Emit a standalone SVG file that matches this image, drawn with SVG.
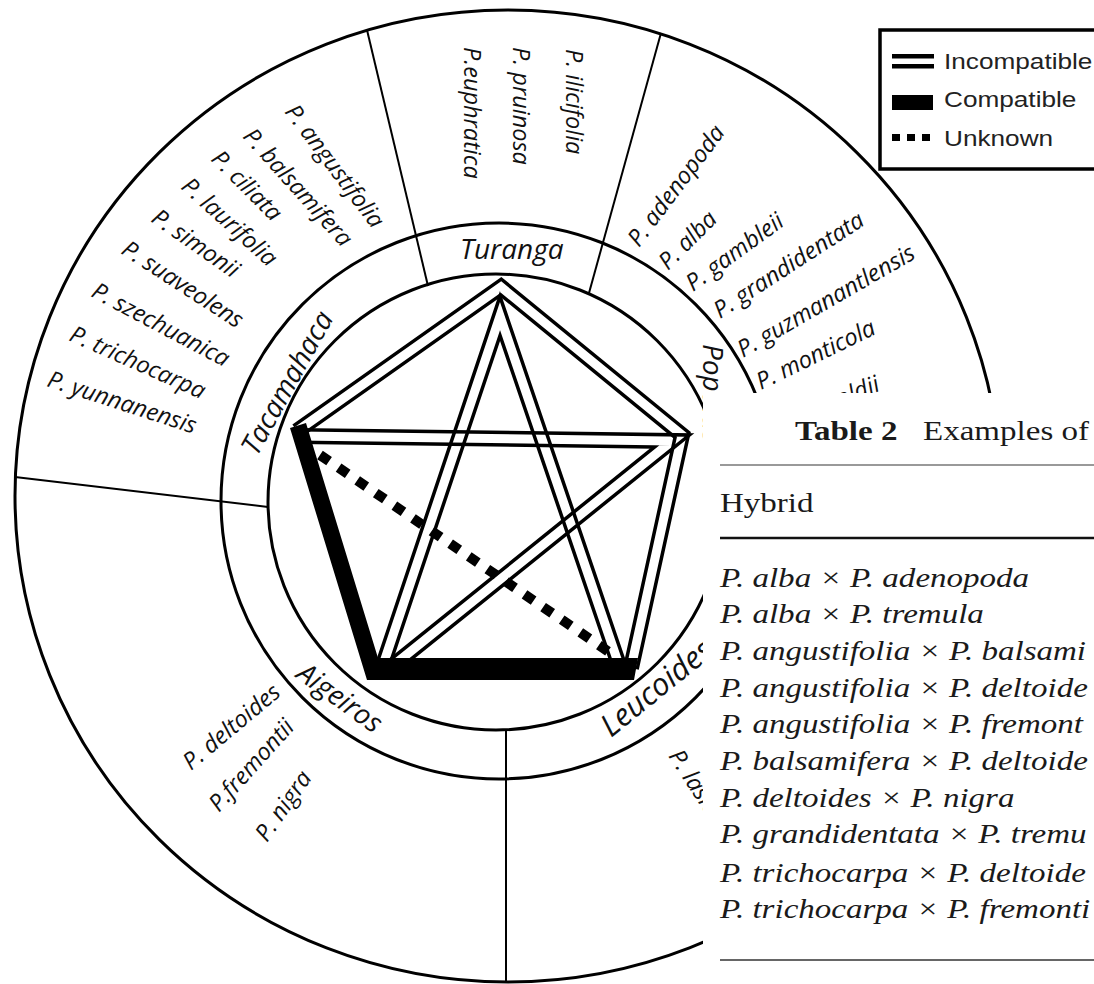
<svg xmlns="http://www.w3.org/2000/svg" width="1094" height="984" viewBox="0 0 1094 984">
<style>
.ring{fill:none;stroke:#000;stroke-width:3}
.div{stroke:#000;stroke-width:2;fill:none}
.sp{font-family:"Open Sans","Noto Sans",sans-serif;font-style:italic;font-size:23.5px;fill:#111}
.sec{font-family:"Open Sans","Noto Sans",sans-serif;font-style:italic;font-size:28px;fill:#111}
.dbl{fill:none;stroke:#000;stroke-width:16;stroke-linejoin:miter;stroke-miterlimit:10}
.gap{fill:none;stroke:#000;stroke-width:9;stroke-linejoin:miter;stroke-miterlimit:10}
.leg{font-family:"Liberation Sans",Arial,sans-serif;font-size:22px;fill:#222}
.tb{font-family:"Liberation Serif","Times New Roman",serif;font-size:28px;fill:#1a1a1a}
.it{font-style:italic}
</style>
<defs>
<mask id="mPent" maskUnits="userSpaceOnUse" x="0" y="0" width="1094" height="984"><rect width="1094" height="984" fill="#fff"/><path class="gap" d="M297 431 L501 287 L682 435 L631 668"/></mask>
<mask id="mV1" maskUnits="userSpaceOnUse" x="0" y="0" width="1094" height="984"><rect width="1094" height="984" fill="#fff"/><path class="gap" d="M382 668 L500 316 L620 668"/></mask>
<mask id="mV2" maskUnits="userSpaceOnUse" x="0" y="0" width="1094" height="984"><rect width="1094" height="984" fill="#fff"/><path class="gap" d="M297 436 L672 441 L390 668"/></mask>
</defs>
<rect width="1094" height="984" fill="#fff"/>
<g id="rings">
<ellipse class="ring" cx="508" cy="496" rx="493" ry="486"/>
<circle class="ring" cx="499" cy="501" r="278"/>
<circle class="ring" cx="496" cy="502" r="228"/>
<line class="div" x1="367" y1="30" x2="428" y2="286"/>
<line class="div" x1="661" y1="33" x2="589" y2="293"/>
<line class="div" x1="15" y1="477" x2="268" y2="507"/>
<line class="div" x1="506" y1="730" x2="506" y2="982"/>
</g>
<g id="sec-turanga">
<text class="sec" x="460" y="259">Turanga</text>
<text class="sp" transform="translate(566,49) rotate(90)">P. ilicifolia</text>
<text class="sp" transform="translate(513,47) rotate(90)">P. pruinosa</text>
<text class="sp" transform="translate(464,47) rotate(90)">P.euphratica</text>
</g>
<g id="sec-tacamahaca">
<text class="sec" transform="translate(257,457) rotate(-61)">Tacamahaca</text>
<text class="sp" transform="translate(284,112) rotate(53)">P. angustifolia</text>
<text class="sp" transform="translate(242,137) rotate(48)">P. balsamifera</text>
<text class="sp" transform="translate(210,160) rotate(45)">P. ciliata</text>
<text class="sp" transform="translate(180,188) rotate(42)">P. laurifolia</text>
<text class="sp" transform="translate(150,221) rotate(35)">P. simonii</text>
<text class="sp" transform="translate(120,253) rotate(33)">P. suaveolens</text>
<text class="sp" transform="translate(90,296) rotate(28)">P. szechuanica</text>
<text class="sp" transform="translate(68,340) rotate(24)">P. trichocarpa</text>
<text class="sp" transform="translate(46,386) rotate(18)">P. yunnanensis</text>
</g>
<g id="sec-aigeiros">
<text class="sec" transform="translate(295,677) rotate(36)">Aigeiros</text>
<text class="sp" transform="translate(191,771) rotate(-40)">P. deltoides</text>
<text class="sp" transform="translate(219,813) rotate(-48)">P.fremontii</text>
<text class="sp" transform="translate(267,843) rotate(-55)">P. nigra</text>
</g>
<g id="sec-leucoides">
<text class="sec" style="font-size:31px" transform="translate(611,738) rotate(-39)">Leucoides</text>
<text class="sp" transform="translate(668,756) rotate(57)">P. lasiocarpa</text>
</g>
<g id="sec-populus">
<text class="sec" transform="translate(703,344) rotate(90)">Populus</text>
<text class="sp" transform="translate(639,248) rotate(-53)">P. adenopoda</text>
<text class="sp" transform="translate(668,271) rotate(-45)">P. alba</text>
<text class="sp" transform="translate(693,292) rotate(-36)">P. gambleii</text>
<text class="sp" transform="translate(720,319) rotate(-33)">P. grandidentata</text>
<text class="sp" transform="translate(743,358) rotate(-30)">P. guzmanantlensis</text>
<text class="sp" transform="translate(761,390) rotate(-26)">P. monticola</text>
<text class="sp" transform="translate(778,432) rotate(-22)">P. sieboldii</text>
</g>
<g id="connectors">
<path class="dbl" mask="url(#mPent)" d="M297 431 L501 287 L682 435 L631 668"/>
<path class="dbl" mask="url(#mV1)" d="M382 668 L500 316 L620 668"/>
<path class="dbl" mask="url(#mV2)" d="M297 436 L672 441 L390 668"/>
<line x1="320" y1="455" x2="612" y2="654" stroke="#000" stroke-width="10" stroke-dasharray="11 11.5"/>
<polygon points="290,428 306,423 378,658 638,658 634,680 367,680" fill="#000"/>
</g>
<g id="legend">
<rect x="880" y="30" width="230" height="139" fill="#fff" stroke="#000" stroke-width="3.5"/>
<rect x="892" y="54" width="42" height="4.5"/>
<rect x="892" y="64" width="42" height="4.5"/>
<rect x="892" y="95" width="41" height="15"/>
<rect x="892" y="134" width="8" height="7"/>
<rect x="907" y="134" width="8" height="7"/>
<rect x="922" y="134" width="8" height="7"/>
<text class="leg" transform="translate(944,69) scale(1.19,1)">Incompatible</text>
<text class="leg" transform="translate(944,107) scale(1.19,1)">Compatible</text>
<text class="leg" transform="translate(944,146) scale(1.19,1)">Unknown</text>
</g>
<g id="table">
<rect x="703" y="393" width="391" height="591" fill="#fff"/>
<text class="tb" transform="translate(795,440) scale(1.18,1)" font-weight="bold">Table 2</text>
<text class="tb" transform="translate(923,440) scale(1.18,1)">Examples of</text>
<line x1="720" y1="465" x2="1094" y2="465" stroke="#777" stroke-width="1.5"/>
<text class="tb" transform="translate(720,512) scale(1.18,1)">Hybrid</text>
<line x1="720" y1="538" x2="1094" y2="538" stroke="#111" stroke-width="2.5"/>
<text class="tb it" transform="translate(720,587) scale(1.18,1)">P. alba × P. adenopoda</text>
<text class="tb it" transform="translate(720,623) scale(1.18,1)">P. alba × P. tremula</text>
<text class="tb it" transform="translate(720,660) scale(1.18,1)">P. angustifolia × P. balsami</text>
<text class="tb it" transform="translate(720,697) scale(1.18,1)">P. angustifolia × P. deltoide</text>
<text class="tb it" transform="translate(720,733) scale(1.18,1)">P. angustifolia × P. fremont</text>
<text class="tb it" transform="translate(720,770) scale(1.18,1)">P. balsamifera × P. deltoide</text>
<text class="tb it" transform="translate(720,807) scale(1.18,1)">P. deltoides × P. nigra</text>
<text class="tb it" transform="translate(720,843) scale(1.18,1)">P. grandidentata × P. tremu</text>
<text class="tb it" transform="translate(720,882) scale(1.18,1)">P. trichocarpa × P. deltoide</text>
<text class="tb it" transform="translate(720,918) scale(1.18,1)">P. trichocarpa × P. fremonti</text>
<line x1="720" y1="960" x2="1094" y2="960" stroke="#666" stroke-width="2"/>
</g>
</svg>
